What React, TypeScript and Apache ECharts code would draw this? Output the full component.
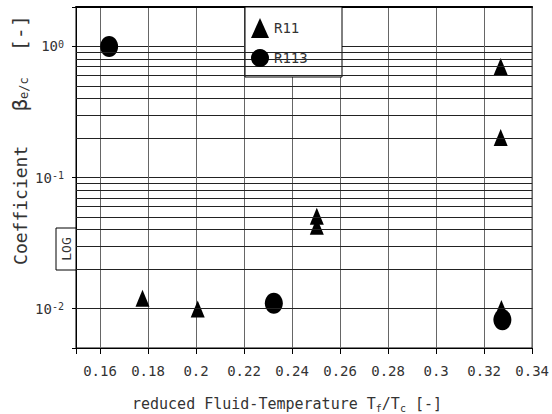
import React, { useEffect, useRef } from 'react';
import * as echarts from 'echarts';

// ---- data ----
const r11X = [0.1777, 0.2007, 0.2503, 0.2503, 0.3269, 0.3269, 0.3272];
const r11Y = [0.012, 0.0099, 0.0507, 0.0425, 0.703, 0.202, 0.01];
const r113X = [0.1638, 0.2324, 0.3276];
const r113Y = [1.0, 0.011, 0.0082];
const minorGridValues = [
  0.006, 0.007, 0.008, 0.009,
  0.02, 0.03, 0.04, 0.05, 0.06, 0.07, 0.08, 0.09,
  0.2, 0.3, 0.4, 0.5, 0.6, 0.7, 0.8, 0.9,
];
const seriesNames = ['R11', 'R113'];

const FONT = '"DejaVu Sans Mono", monospace';
const TXT = '#333';
const CIRCLE =
  'path://M0,-1C0.5523,-1 1,-0.5523 1,0C1,0.5523 0.5523,1 0,1C-0.5523,1 -1,0.5523 -1,0C-1,-0.5523 -0.5523,-1 0,-1Z';

export default function App() {
  const ref = useRef<HTMLDivElement>(null);
  useEffect(() => {
    const chart = echarts.init(ref.current!, null, { renderer: 'svg' });
    chart.setOption({
      animation: false,
      backgroundColor: '#fff',
      grid: {
        left: 76, top: 7, width: 460, height: 341,
        show: true, borderColor: '#000', borderWidth: 1, backgroundColor: 'transparent',
      },
      xAxis: [
        {
          type: 'value', min: 0.15, max: 0.34, splitNumber: 10,
          axisLine: { show: true, onZero: false, lineStyle: { color: '#000' } },
          axisTick: { show: true, length: 6, lineStyle: { color: '#000' } },
          axisLabel: {
            margin: 16, fontFamily: FONT, fontSize: 14, color: TXT,
            formatter: (v: number) => (Math.abs(v - 0.15) < 1e-9 ? '' : String(parseFloat(v.toFixed(2)))),
          },
          splitLine: { show: true, lineStyle: { color: '#666', width: 1 } },
        },
        {
          type: 'value', position: 'top', min: 0.15, max: 0.34,
          axisLine: { show: true, onZero: false, lineStyle: { color: '#000', width: 2 } },
          axisTick: { show: false }, axisLabel: { show: false }, splitLine: { show: false },
        },
      ],
      yAxis: {
        type: 'log', logBase: 10, min: 0.005, max: 2,
        axisLine: { show: true, onZero: false, lineStyle: { color: '#000' } },
        axisTick: { show: true, length: 4, lineStyle: { color: '#000' } },
        axisLabel: {
          margin: 12, color: TXT,
          formatter: (v: number) => {
            const e = Math.log10(v);
            const r = Math.round(e);
            if (Math.abs(e - r) > 1e-6) return '';
            return `{b|10}{s|${r}}`;
          },
          rich: {
            b: { fontFamily: FONT, fontSize: 14, lineHeight: 14, verticalAlign: 'bottom', color: TXT },
            s: { fontFamily: FONT, fontSize: 10, lineHeight: 10, padding: [0, 0, 8, 0], verticalAlign: 'top', color: TXT },
          },
        },
        splitLine: { show: true, lineStyle: { color: '#222', width: 1 } },
      },
      legend: {
        orient: 'vertical', left: 251, top: 18, padding: 0,
        itemWidth: 18, itemHeight: 20, itemGap: 11, z: 6,
        textStyle: { fontFamily: FONT, fontSize: 14, color: TXT },
        data: [
          { name: seriesNames[0], icon: 'triangle' },
          { name: seriesNames[1], icon: 'circle' },
        ],
      },
      series: [
        {
          name: seriesNames[0], type: 'scatter', symbol: 'triangle', symbolSize: [14, 17],
          itemStyle: { color: '#000', opacity: 1 },
          data: r11X.map((x, i) => [x, r11Y[i]]),
          markLine: {
            silent: true, symbol: ['none', 'none'], label: { show: false },
            lineStyle: { color: '#222', width: 1, type: 'solid', opacity: 1 },
            data: minorGridValues.map((v) => ({ yAxis: v })),
          },
          z: 4,
        },
        {
          name: seriesNames[1], type: 'scatter', symbol: CIRCLE, symbolSize: [18, 21],
          symbolKeepAspect: false,
          itemStyle: { color: '#000', opacity: 1 },
          data: r113X.map((x, i) => [x, r113Y[i]]),
          z: 4,
        },
      ],
      graphic: [
        {
          type: 'rect', z: 5,
          shape: { x: 245, y: 7, width: 97, height: 70 },
          style: { fill: '#fff', stroke: '#000', lineWidth: 1 },
        },
        {
          type: 'rect', z: 5,
          shape: { x: 56, y: 228, width: 20, height: 42 },
          style: { fill: '#fff', stroke: '#000', lineWidth: 1 },
        },
        {
          type: 'text', z: 6, x: 66, y: 249, rotation: Math.PI / 2,
          style: { text: 'LOG', fontFamily: FONT, fontSize: 13, fill: TXT, align: 'center', verticalAlign: 'middle' },
        },
        {
          type: 'text', z: 6, x: 287, y: 404,
          style: {
            text: 'reduced Fluid-Temperature T{s|f}/T{s|c} [-]',
            fontFamily: FONT, fontSize: 15, fill: TXT, align: 'center', verticalAlign: 'middle',
            rich: {
              s: { fontFamily: FONT, fontSize: 10, lineHeight: 10, padding: [8, 0, 0, 0], fill: TXT },
            },
          },
        },
        {
          type: 'text', z: 6, x: 20, y: 140, rotation: Math.PI / 2,
          style: {
            text: '{a|Coefficient }{b|β}{s|e/c}{c| [-]}',
            fontFamily: FONT, fontSize: 16, fill: TXT, align: 'center', verticalAlign: 'middle',
            rich: {
              a: { fontFamily: FONT, fontSize: 18, fill: TXT },
              b: { fontFamily: FONT, fontSize: 20, fill: TXT, padding: [0, 0, 0, 24] },
              s: { fontFamily: FONT, fontSize: 12, lineHeight: 12, padding: [8, 0, 0, 0], fill: TXT },
              c: { fontFamily: FONT, fontSize: 20, fill: TXT, padding: [0, 0, 0, 14] },
            },
          },
        },
      ],
    });
    return () => chart.dispose();
  }, []);
  return (
    <div
      ref={ref}
      style={{ position: 'fixed', left: 0, top: 0, width: 552, height: 414, background: '#fff' }}
    />
  );
}
